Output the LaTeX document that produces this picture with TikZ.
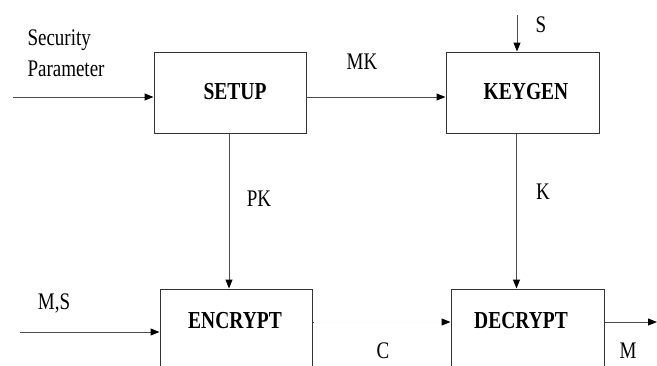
\documentclass[tikz,border=0pt]{standalone}
\usepackage{fontspec}
\setmainfont{Liberation Serif}
\usetikzlibrary{arrows.meta,calc}
% slightly tall lettering
\newcommand{\tallt}[1]{\scalebox{1}[1.25]{#1}}
\begin{document}
\begin{tikzpicture}[x=1pt,y=-1pt,
  line width=1pt,
  wire/.style={draw=black!70,-{Triangle[length=9pt,width=7pt,fill=black,color=black]}},
  blk/.style={draw=black!80,rectangle,inner sep=0pt,minimum width=152pt},
  lbl/.style={anchor=base,inner sep=0pt,font=\fontsize{19}{22}\selectfont},
  blbl/.style={lbl,font=\fontsize{19.5}{22}\selectfont\bfseries}]
\useasboundingbox (0,0) rectangle (657,365);
\clip (0,0) rectangle (657,365);

% blocks
\node[blk,minimum height=81pt] (setup) at (230,92.5) {};
\node[blk,minimum height=81pt,minimum width=153pt] (keygen) at (522.5,92.5) {};
\node[blk,minimum height=100pt] (encrypt) at (236,339) {};
\node[blk,minimum height=100pt,minimum width=153pt] (decrypt) at (527.5,339) {};

\node[blbl] (tsetup) at (235,99) {\tallt{SETUP}};
\node[blbl] (tkeygen) at (526,99) {\tallt{KEYGEN}};
\node[blbl] (tencrypt) at (235,328) {\tallt{ENCRYPT}};
\node[blbl] (tdecrypt) at (521,328) {\tallt{DECRYPT}};

% free ends
\coordinate (spin) at (13,97);
\coordinate (sin) at (517,15);
\coordinate (msin) at (20,332);
\coordinate (mout) at (657,322);

% connectors
\draw[wire] (spin) -- (spin -| setup.west);
\draw[wire] ([yshift=-4.5pt]setup.east) -- ([yshift=-4.5pt]keygen.west);
\draw[wire] (sin) -- (sin |- keygen.north);
\draw[wire] ([xshift=-1pt]setup.south) -- ([xshift=-1pt]setup.south |- encrypt.north);
\draw[wire] ([xshift=-6pt]keygen.south) -- ([xshift=-6pt]keygen.south |- decrypt.north);
\draw[wire] (msin) -- (msin -| encrypt.west);
\draw[draw=black!2,-{Triangle[length=9pt,width=7pt,fill=black,color=black]}]
  (encrypt.east |- mout) -- (decrypt.west |- mout);
\draw[draw=black!80] (encrypt.east |- mout) -- ++(1.5,0);
\draw[wire] (decrypt.east |- mout) -- (mout);

% labels
\node[lbl,anchor=base west] (lsec) at (27,45) {\tallt{Security}};
\node[lbl,anchor=base west] (lpar) at (27,76) {\tallt{Parameter}};
\node[lbl] (lmk) at (362,69) {\tallt{MK}};
\node[lbl] (ls) at (541,32) {\tallt{S}};
\node[lbl] (lpk) at (259,206) {\tallt{PK}};
\node[lbl] (lk) at (543,199) {\tallt{K}};
\node[lbl] (lms) at (54,309) {\tallt{M,S}};
\node[lbl] (lc) at (383,358) {\tallt{C}};
\node[lbl] (lm) at (628,358) {\tallt{M}};
\end{tikzpicture}
\end{document}
